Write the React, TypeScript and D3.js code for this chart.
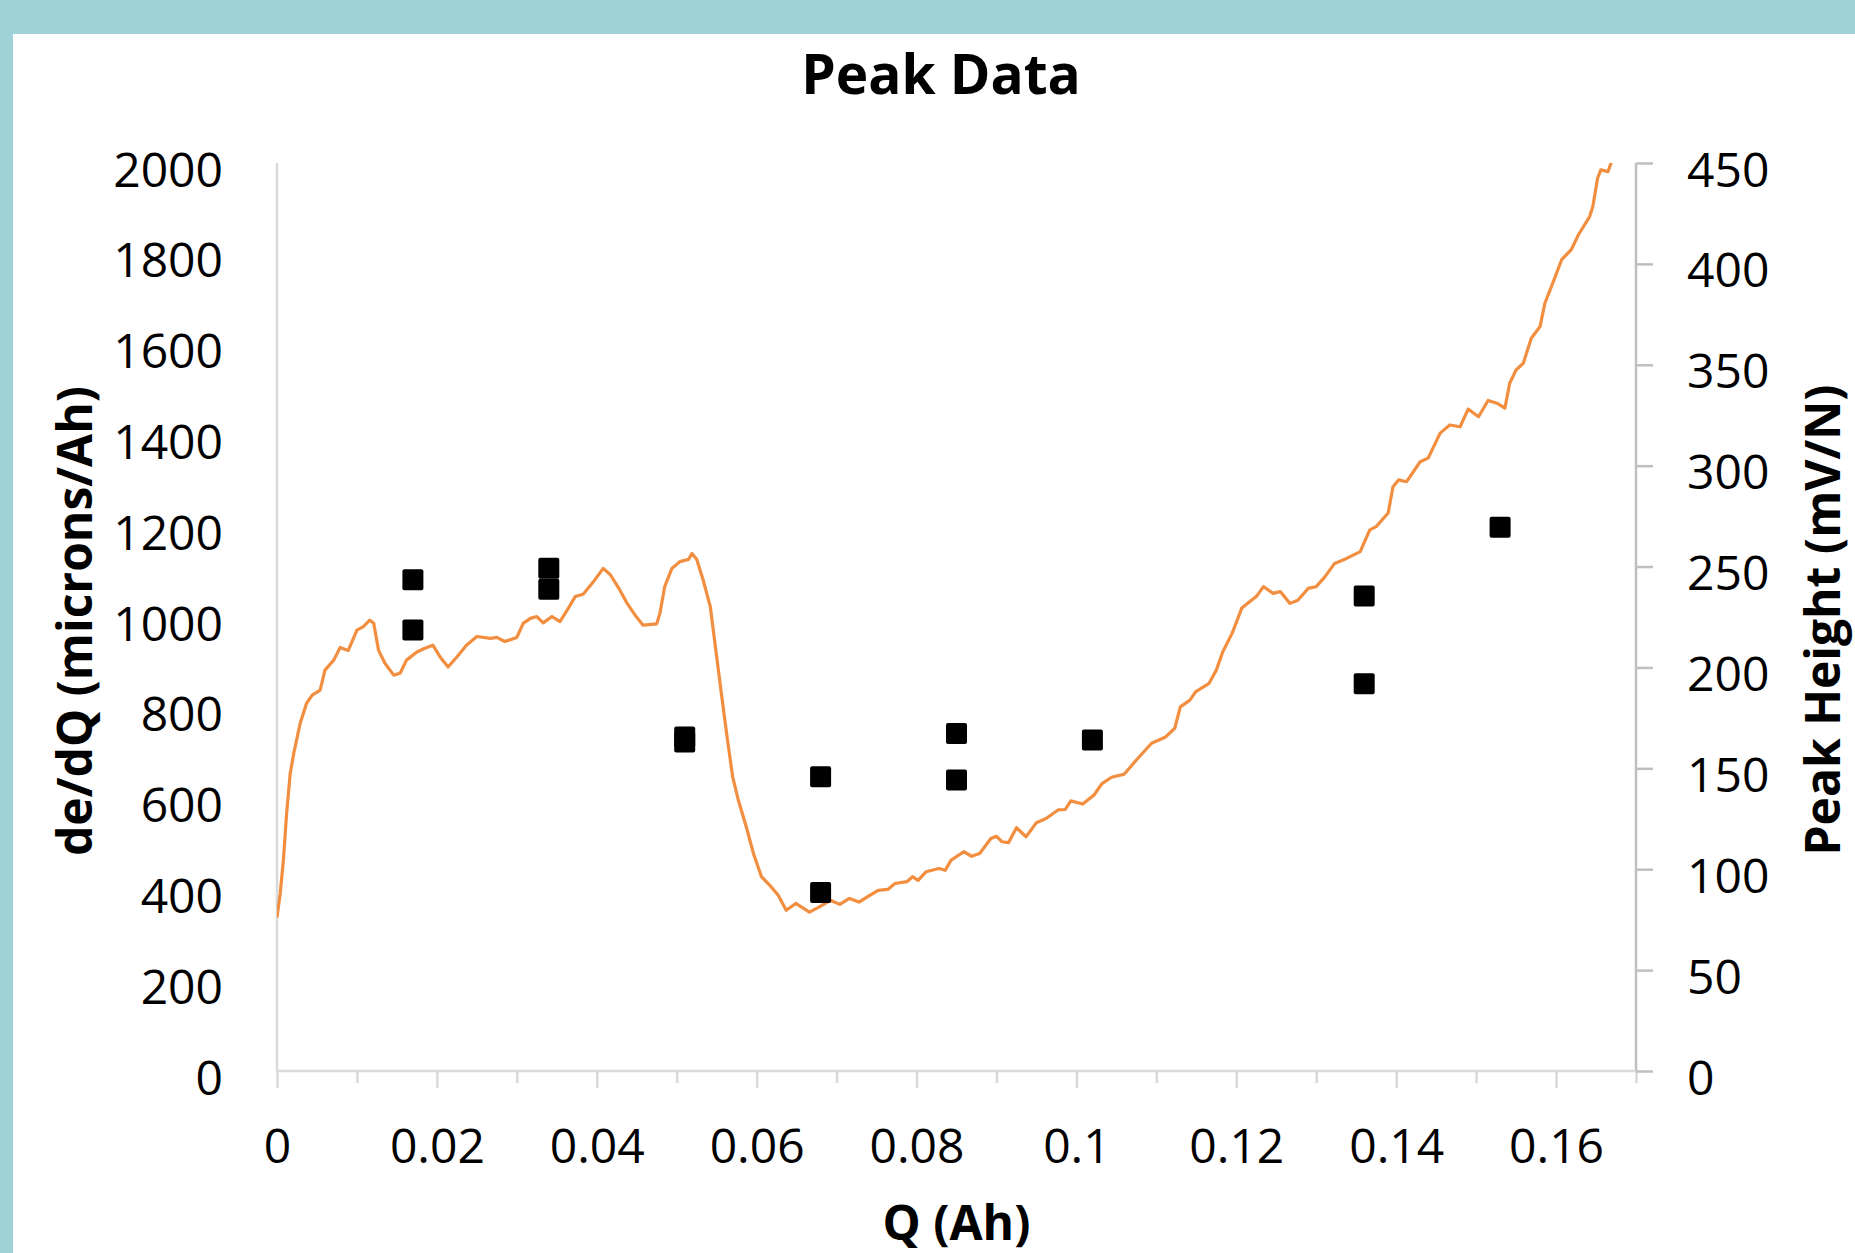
import React, { useEffect, useRef } from 'react';
import * as d3 from 'd3';

// dE/dQ trace (left axis)
const traceQ = [
  0, 0.0004, 0.0008, 0.0012, 0.00165, 0.0021, 0.0029, 0.0037, 0.0044, 0.0054, 0.006, 0.0071, 0.0079, 0.0089,
  0.01, 0.0108, 0.0116, 0.0121, 0.0127, 0.0135, 0.0146, 0.0154, 0.0162, 0.0175, 0.0185, 0.0195, 0.0204, 0.0214,
  0.0225, 0.0237, 0.025, 0.0267, 0.0275, 0.0285, 0.03, 0.0308, 0.0317, 0.0325, 0.0333, 0.0344, 0.0354, 0.0363,
  0.0373, 0.0383, 0.0396, 0.0408, 0.0417, 0.0429, 0.0438, 0.0448, 0.0458, 0.0475, 0.0479, 0.0485, 0.0494, 0.0504,
  0.0515, 0.0519, 0.0525, 0.0533, 0.0542, 0.0548, 0.0556, 0.0563, 0.057, 0.0577, 0.0587, 0.0596, 0.0606, 0.0618,
  0.0627, 0.0637, 0.0649, 0.0666, 0.0678, 0.0692, 0.0704, 0.0716, 0.0728, 0.074, 0.0752, 0.0764, 0.0773, 0.0788,
  0.0795, 0.0802, 0.0812, 0.0828, 0.0836, 0.0843, 0.0859, 0.0869, 0.0879, 0.0893, 0.09, 0.0907, 0.0915, 0.0925,
  0.0937, 0.095, 0.0962, 0.0977, 0.0986, 0.0993, 0.1008, 0.1022, 0.1032, 0.1044, 0.106, 0.1075, 0.1094, 0.1111,
  0.1123, 0.113, 0.1142, 0.1149, 0.1166, 0.1175, 0.1183, 0.1195, 0.1207, 0.1217, 0.1225, 0.1234, 0.1246, 0.1255,
  0.1267, 0.1277, 0.129, 0.13, 0.1311, 0.1323, 0.1338, 0.1355, 0.1367, 0.1375, 0.139, 0.1396, 0.1403, 0.1413,
  0.143, 0.144, 0.1455, 0.1467, 0.148, 0.149, 0.1503, 0.1515, 0.1526, 0.1536, 0.1542, 0.155, 0.1559, 0.1569,
  0.158, 0.1586, 0.1596, 0.1607, 0.1619, 0.1628, 0.1642, 0.1646, 0.1652, 0.1656, 0.1665, 0.1669,
];
const traceDeDq = [
  338, 391, 464, 567, 655, 700, 766, 810, 828, 839, 883, 905, 933, 926,
  971, 979, 993, 986, 927, 898, 872, 876, 905, 923, 931, 938, 912, 890,
  912, 938, 957, 953, 955, 946, 955, 986, 997, 1001, 987, 1001, 990, 1015,
  1045, 1050, 1078, 1107, 1093, 1059, 1030, 1004, 982, 985, 1008, 1067, 1107, 1122,
  1127, 1140, 1127, 1082, 1023, 940, 830, 736, 648, 597, 538, 479, 428, 406,
  387, 354, 369, 350, 361, 376, 367, 380, 372, 385, 398, 400, 413, 417,
  428, 420, 439, 446, 442, 464, 483, 473, 479, 512, 517, 505, 503, 536,
  516, 547, 556, 575, 576, 595, 588, 608, 633, 647, 654, 685, 722, 735,
  755, 802, 817, 835, 854, 883, 923, 965, 1020, 1034, 1045, 1067, 1052, 1056,
  1030, 1037, 1063, 1067, 1089, 1118, 1129, 1144, 1192, 1199, 1229, 1287, 1302, 1298,
  1342, 1350, 1405, 1423, 1419, 1458, 1441, 1477, 1471, 1460, 1515, 1544, 1559, 1614,
  1640, 1691, 1736, 1787, 1809, 1842, 1882, 1904, 1967, 1985, 1981, 2001,
];

// peak heights (right axis)
const peakQ = [0.017, 0.017, 0.034, 0.034, 0.051, 0.051, 0.068, 0.068, 0.085, 0.085, 0.102, 0.136, 0.136, 0.153];
const peakHeight = [243.4, 218.6, 249.2, 238.7, 165.5, 163, 145.8, 88.5, 167.3, 144.2, 164, 235.4, 191.9, 269.5];

const qMajorTicks = [0, 0.02, 0.04, 0.06, 0.08, 0.1, 0.12, 0.14, 0.16];
const qMinorTicks = [0.01, 0.03, 0.05, 0.07, 0.09, 0.11, 0.13, 0.15, 0.17];
const leftTicks = [0, 200, 400, 600, 800, 1000, 1200, 1400, 1600, 1800, 2000];
const rightTicks = [0, 50, 100, 150, 200, 250, 300, 350, 400, 450];

const W = 1855;
const H = 1253;
const plot = { left: 277, right: 1636, top: 163, bottom: 1071 };
const font = "'Open Sans', sans-serif";

export default function App() {
  const svgRef = useRef<SVGSVGElement>(null);

  useEffect(() => {
    const svg = d3.select(svgRef.current);
    svg.selectAll('*').remove();

    const x = d3.scaleLinear().domain([0, 0.17]).range([plot.left, plot.right]);
    const yL = d3.scaleLinear().domain([0, 2000]).range([plot.bottom, plot.top]);
    const yR = d3.scaleLinear().domain([0, 450]).range([plot.bottom, plot.top]);

    svg.append('rect').attr('width', W).attr('height', H).attr('fill', '#9ed2d6');
    svg.append('rect').attr('x', 13).attr('y', 34).attr('width', W - 13).attr('height', H - 34).attr('fill', '#fff');

    // bottom axis: minor + major ticks
    const minor = svg.append('g')
      .attr('transform', `translate(0,${plot.bottom})`)
      .call(d3.axisBottom(x).tickValues(qMinorTicks).tickSize(12).tickFormat(() => ''));
    minor.select('.domain').remove();
    minor.selectAll('line').attr('stroke', '#d9d9d9').attr('stroke-width', 2.5);

    const major = svg.append('g')
      .attr('transform', `translate(0,${plot.bottom})`)
      .call(d3.axisBottom(x).tickValues(qMajorTicks).tickSize(17).tickFormat(d => d3.format('~g')(d as number)));
    major.select('.domain').remove();
    major.selectAll('line').attr('stroke', '#d9d9d9').attr('stroke-width', 2.5);
    major.attr('font-family', font).attr('font-size', 48);
    major.selectAll('text').attr('y', 92).attr('dy', 0).attr('fill', '#000');

    const left = svg.append('g')
      .attr('transform', `translate(${plot.left},0)`)
      .call(d3.axisLeft(yL).tickValues(leftTicks).tickSize(0).tickPadding(54).tickFormat(d3.format('d')));
    left.select('.domain').remove();
    left.attr('font-family', font).attr('font-size', 48);
    left.selectAll('text').attr('y', 23).attr('dy', 0).attr('fill', '#000');

    const right = svg.append('g')
      .attr('transform', `translate(${plot.right},0)`)
      .call(d3.axisRight(yR).tickValues(rightTicks).tickSize(17).tickPadding(34).tickFormat(d3.format('d')));
    right.select('.domain').remove();
    right.selectAll('line').attr('stroke', '#bfbfbf').attr('stroke-width', 2.5);
    right.attr('font-family', font).attr('font-size', 48);
    right.selectAll('text').attr('y', 23).attr('dy', 0).attr('fill', '#000');

    svg.append('line').attr('x1', plot.left).attr('x2', plot.left).attr('y1', plot.top).attr('y2', plot.bottom)
      .attr('stroke', '#d9d9d9').attr('stroke-width', 2.5);
    svg.append('line').attr('x1', plot.right).attr('x2', plot.right).attr('y1', plot.top).attr('y2', plot.bottom)
      .attr('stroke', '#bfbfbf').attr('stroke-width', 2.5);
    svg.append('line').attr('x1', plot.left).attr('x2', plot.right).attr('y1', plot.bottom).attr('y2', plot.bottom)
      .attr('stroke', '#d9d9d9').attr('stroke-width', 2.5);

    // trace
    svg.append('clipPath').attr('id', 'plotClip')
      .append('rect').attr('x', plot.left).attr('y', plot.top)
      .attr('width', plot.right - plot.left).attr('height', plot.bottom - plot.top);

    const line = d3.line<number>().x((d, i) => x(traceQ[i])).y(d => yL(d));
    svg.append('path')
      .datum(traceDeDq)
      .attr('d', line)
      .attr('fill', 'none')
      .attr('stroke', '#f28e40')
      .attr('stroke-width', 3.2)
      .attr('stroke-linejoin', 'round')
      .attr('clip-path', 'url(#plotClip)');

    // peak markers
    const s = 21;
    svg.selectAll('.peak')
      .data(peakHeight)
      .join('rect')
      .attr('class', 'peak')
      .attr('x', (d, i) => x(peakQ[i]) - s / 2)
      .attr('y', d => yR(d) - s / 2)
      .attr('width', s)
      .attr('height', s)
      .attr('rx', 2)
      .attr('fill', '#000');

    // titles
    svg.append('text').attr('x', 941).attr('y', 94).attr('text-anchor', 'middle')
      .attr('font-family', font).attr('font-weight', 700).attr('font-size', 55).text('Peak Data');
    svg.append('text').attr('x', (plot.left + plot.right) / 2).attr('y', 1240).attr('text-anchor', 'middle')
      .attr('font-family', font).attr('font-weight', 700).attr('font-size', 48).text('Q (Ah)');
    svg.append('text').attr('transform', `translate(92,${(plot.top + plot.bottom) / 2 + 4}) rotate(-90)`)
      .attr('text-anchor', 'middle')
      .attr('font-family', font).attr('font-weight', 700).attr('font-size', 48).text('de/dQ (microns/Ah)');
    svg.append('text').attr('transform', `translate(1840,${(plot.top + plot.bottom) / 2 + 3}) rotate(-90)`)
      .attr('text-anchor', 'middle')
      .attr('font-family', font).attr('font-weight', 700).attr('font-size', 48).text('Peak Height (mV/N)');
  }, []);

  return (
    <div style={{ position: 'absolute', left: 0, top: 0 }}>
      <svg ref={svgRef} width={W} height={H} style={{ display: 'block' }} />
    </div>
  );
}
